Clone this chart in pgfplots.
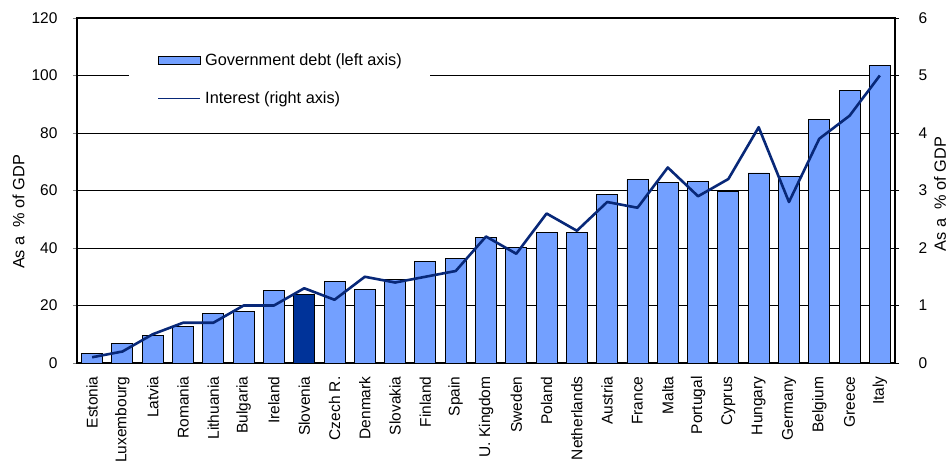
\documentclass[border=0pt]{standalone}
\usepackage{pgfplots}
\pgfplotsset{compat=1.18}
\usepackage{fontspec}
\setmainfont{Liberation Sans}

\definecolor{debtblue}{RGB}{115,160,255}
\definecolor{slovblue}{RGB}{0,51,153}
\definecolor{intnavy}{RGB}{8,40,120}

\newcommand{\lbl}{\fontsize{15.5}{18}\selectfont}
\newcommand{\leg}{\fontsize{16.3}{19}\selectfont}

\pgfplotsset{
  common/.style={
    width=818pt, height=345pt, scale only axis,
    at={(0pt,0pt)}, anchor=south west,
    xmin=-0.5, xmax=26.5,
    tick align=outside,
    major tick length=4pt,
    /pgf/number format/assume math mode=true,
    every tick label/.append style={font=\lbl},
  }
}

\begin{document}
\begin{tikzpicture}
\path[use as bounding box] (-77pt,-104pt) rectangle (872pt,363pt);

% Government debt, left axis
\begin{axis}[
  common,
  ymin=0, ymax=120, ytick={0,20,...,120},
  ytick pos=left,
  ymajorgrids, grid style={black, line width=0.9pt},
  axis line style={black, line width=1.2pt},
  xtick={0,...,26},
  xticklabels={Estonia,Luxembourg,Latvia,Romania,Lithuania,Bulgaria,Ireland,Slovenia,Czech R.,Denmark,Slovakia,Finland,Spain,U. Kingdom,Sweden,Poland,Netherlands,Austria,France,Malta,Portugal,Cyprus,Hungary,Germany,Belgium,Greece,Italy},
  xtick style={draw=none},
  minor xtick={-0.5,0.5,...,26.5},
  minor tick length=5pt,
  minor x tick style={black, line width=1pt},
  xtick pos=bottom,
  xticklabel style={yshift=-6pt, rotate=90, anchor=east},
  yticklabel style={xshift=-12pt},
  ylabel={As a \ \% of GDP},
  every axis y label/.style={at={(rel axis cs:-0.0715,0.438)}, rotate=90, anchor=center, font=\leg},
  ybar, bar width=21pt, bar shift=0pt,
]
\addplot[draw=black, line width=0.9pt, fill=debtblue] coordinates {
  (0,3.4) (1,6.7) (2,9.5) (3,12.7) (4,17.3) (5,17.9) (6,25.2)
  (8,28.4) (9,25.7) (10,29.1) (11,35.3) (12,36.4) (13,43.6) (14,40.2)
  (15,45.3) (16,45.3) (17,58.7) (18,63.8) (19,62.7) (20,63.1) (21,59.8)
  (22,66.1) (23,65.0) (24,84.6) (25,94.7) (26,103.6)
};
\addplot[draw=black, line width=0.9pt, fill=slovblue] coordinates {(7,24.0)};
\end{axis}

% Interest payments, right axis
\begin{axis}[
  common,
  ymin=0, ymax=6, ytick={0,1,...,6},
  axis y line*=right,
  axis x line=none,
  axis line style={black, line width=1.2pt},
  ytick style={black, line width=1pt},
  yticklabel style={xshift=16pt},
  ylabel={As a \ \% of GDP},
  every axis y label/.style={at={(rel axis cs:1.055,0.49)}, rotate=90, anchor=center, font=\leg},
  legend style={
    at={(rel axis cs:0.0636,0.92)}, anchor=north west,
    draw=none, fill=white, font=\leg,
    inner xsep=26pt, inner ysep=6pt,
    row sep=21pt,
  },
  legend cell align=left,
]
\addlegendimage{legend image code/.code={
  \draw[draw=black, line width=0.9pt, fill=debtblue] (3pt,-4pt) rectangle (45pt,4pt);
  \path[draw=none] (0pt,0pt) -- (48pt,0pt);}}
\addlegendentry{Government debt (left axis)}
\addlegendimage{legend image code/.code={
  \draw[intnavy, line width=0.8pt] (3pt,0pt) -- (45pt,0pt);
  \path[draw=none] (0pt,0pt) -- (48pt,0pt);}}
\addlegendentry{Interest (right axis)}
\addplot[intnavy, line width=2.6pt, line join=round, forget plot]
  coordinates {
  (0,0.1) (1,0.2) (2,0.5) (3,0.7) (4,0.7) (5,1.0) (6,1.0) (7,1.3) (8,1.1)
  (9,1.5) (10,1.4) (11,1.5) (12,1.6) (13,2.2) (14,1.9) (15,2.6) (16,2.3)
  (17,2.8) (18,2.7) (19,3.4) (20,2.9) (21,3.2) (22,4.1) (23,2.8) (24,3.9)
  (25,4.3) (26,5.0)
};
\end{axis}
\end{tikzpicture}
\end{document}
